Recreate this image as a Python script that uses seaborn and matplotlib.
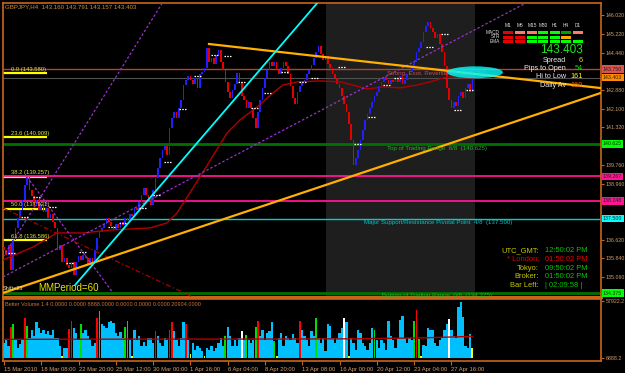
import matplotlib
matplotlib.use("Agg")
import matplotlib.pyplot as plt
import matplotlib.transforms as mtransforms
from matplotlib.patches import Rectangle, Ellipse
import numpy as np
import pandas as pd
import seaborn as sns

# ---------------- data ----------------
header_text = "GBPJPY,H4  143.160 143.791 143.157 143.403"
first_open = 136.30
closes = [
    136.19, 135.98, 136.40, 135.35, 136.61, 137.11, 137.53, 137.86, 138.28, 138.91,
    139.24, 138.70, 138.45, 138.07, 138.28, 137.86, 138.11, 137.78, 137.95, 137.53,
    137.70, 137.36, 137.11, 136.19, 136.40, 135.69, 135.85, 135.56, 135.43, 135.69,
    135.14, 135.69, 135.94, 135.77, 135.98, 135.85, 135.60, 135.85, 135.69, 136.19,
    136.69, 136.94, 137.11, 137.28, 137.53, 137.36, 137.19, 137.02, 137.28, 137.11,
    137.36, 137.23, 137.53, 137.44, 137.70, 137.61, 137.95, 137.86, 138.20, 138.49,
    138.78, 138.49, 138.28, 138.07, 138.70, 139.20, 139.62, 140.04, 140.37, 140.54,
    140.16, 141.29, 141.71, 141.96, 141.71, 142.13, 142.46, 143.09, 143.30, 143.47,
    143.30, 143.13, 143.38, 142.96, 143.55, 143.64, 143.80, 144.64, 144.05, 144.22,
    143.97, 144.35, 144.55, 144.05, 143.72, 143.22, 142.80, 142.55, 142.88, 143.13,
    143.59, 143.22, 142.63, 142.46, 142.13, 142.38, 142.13, 141.71, 141.29, 141.96,
    142.46, 142.96, 143.38, 143.72, 144.05, 143.88, 144.05, 143.72, 143.55, 143.80,
    144.05, 143.88, 143.55, 143.05, 142.55, 142.30, 142.80, 143.05, 143.22, 143.30,
    143.55, 143.72, 143.93, 144.22, 144.47, 144.72, 144.39, 144.14, 144.30, 143.97,
    143.80, 143.55, 143.38, 143.13, 142.96, 142.63, 142.30, 141.96, 141.46, 140.79,
    139.74, 140.04, 140.37, 140.79, 141.21, 141.63, 141.88, 142.13, 142.38, 142.63,
    142.80, 143.05, 143.22, 143.42, 143.30, 143.13, 143.30, 143.22, 143.38, 143.22,
    143.47, 143.13, 143.30, 143.55, 143.64, 143.88, 144.05, 144.47, 144.64, 144.89,
    145.31, 145.56, 145.73, 145.47, 145.31, 145.06, 145.22, 144.81, 144.47, 143.88,
    142.96, 142.46, 142.13, 142.38, 142.21, 142.63, 142.80, 142.55, 142.96, 143.13,
    142.80, 143.40,
]

volume_k = [
    15, 18, 12, 32, 35, 18, 10, 14, 18, 41,
    33, 20, 28, 22, 37, 30, 25, 28, 24, 27,
    23, 28, 20, 20, 12, 2, 10, 10, 29, 38,
    30, 25, 18, 35, 25, 28, 22, 18, 12, 15,
    41, 48, 35, 33, 30, 37, 38, 36, 25, 22,
    26, 20, 31, 38, 18, 2, 28, 18, 22, 12,
    16, 12, 20, 20, 15, 27, 22, 15, 12, 20,
    18, 28, 37, 27, 18, 12, 20, 37, 35, 18,
    4, 15, 8, 12, 10, 7, 2, 10, 8, 12,
    7, 10, 15, 20, 12, 22, 31, 22, 12, 18,
    12, 20, 27, 18, 23, 18, 15, 18, 32, 38,
    22, 28, 18, 25, 27, 37, 17, 2, 20, 25,
    12, 22, 20, 18, 24, 20, 15, 38, 28, 22,
    18, 12, 27, 22, 41, 20, 15, 20, 7, 35,
    33, 20, 15, 20, 25, 30, 41, 37, 2, 20,
    15, 8, 28, 25, 15, 12, 8, 15, 30, 28,
    18, 10, 18, 15, 8, 38, 22, 18, 10, 20,
    39, 43, 20, 15, 20, 18, 38, 49, 19, 2,
    13, 12, 30, 28, 28, 15, 12, 18, 20, 28,
    35, 40, 28, 22, 20, 52, 57, 42, 12, 10,
    24, 10,
]
volume_type = ("bbbrgbbbbr" "gbbbbbbbbb" "bbbbbybbrr" "bbbgbbbbbb" "rgbbbbbbbb"
               "bbggbybbbb" "bbbbbrbbbb" "brrbbbbbrb" "ybbbbbybbb" "bbbbbgbbbb"
               "bbwbgbbbgr" "bbbbbbgybb" "bbbbbbbrbb" "bbbbgbbbbb" "bbbbbbwbyb"
               "bbbbbbbbbg" "bbbbbbbbbb" "bbbbbbgrgy" "bbbbbbbbbb" "bwbbbbbbbb"
               "by")
vol_ma_bars = [0, 60, 120, 150, 180, 201]
vol_ma_vals = [19.0, 19.2, 19.3, 19.5, 20.5, 22.0]

ma_bars = [-0.4, 12.4, 22.7, 33.9, 45.5, 62.7, 70, 74.2, 84.1, 95.7, 101.3, 108.6,
           115.5, 119.7, 125.8, 135.6, 144.2, 152.8, 155.8, 162.7, 170, 177.3,
           182.8, 190.1, 201.3]
ma_prices = [135.77, 136.31, 136.90, 136.90, 137.02, 137.11, 137.32, 137.73, 139.24,
             141.08, 141.63, 142.17, 142.76, 143.09, 143.22, 143.26, 143.22, 143.01,
             142.92, 143.01, 142.97, 143.09, 143.22, 143.43, 143.38]

pivot_bars = [3.4, 14.2, 21.0, 9.0, 28.3, 33.9, 46.4, 51.1, 59.7, 65.7, 70.4, 76.8,
              83.3, 90.6, 96.1, 102.1, 107.7, 113.3, 120.6, 128.3, 133.5, 145.1,
              151.9, 157.9, 164.4, 169.1, 182.8, 189.3, 194.8, 200.0]
pivot_prices = [136.06, 138.40, 137.99, 137.57, 135.64, 136.10, 137.15, 137.32,
                137.94, 138.49, 139.87, 142.09, 143.47, 144.35, 144.30, 143.22,
                142.13, 142.76, 143.63, 143.22, 143.38, 143.84, 140.62, 141.75,
                143.09, 143.38, 144.68, 145.22, 142.04, 142.88]

level_prices = [143.750, 143.403, 140.625, 139.267, 138.248, 137.500, 134.375]
level_labels = ["143.750", "143.403", "140.625", "139.267", "138.248", "137.500", "134.375"]
level_colors = ["#B84030", "#505050", "#007000", "#FF1493", "#FF1493", "#00CED1", "#007000"]
level_widths = [1.0, 0.8, 2.0, 1.3, 1.3, 1.0, 2.0]
level_box_bg = ["#D9534F", "#FF8C00", "#00FF00", "#FF1493", "#FF1493", "#00FFFF", "#00FF00"]

fib_prices = [143.580, 140.909, 139.257, 137.921, 136.586]
fib_labels = ["0.0 (143.580)", "23.6 (140.909)", "38.2 (139.257)", "50.0 (137.921)", "61.8 (136.586)"]

# trend lines: (bar, price) anchors
trend_orange = [((87.5, 144.81), (256.2, 142.96)), ((-0.4, 134.39), (256.2, 142.76))]
trend_cyan = ((30.5, 134.72), (134.8, 146.56))
trend_purple = [((-0.4, 135.90), (68.2, 146.56)), ((9.9, 139.24), (46.8, 134.39)),
                ((-0.4, 135.06), (224.0, 146.52))]
trend_red = ((-0.4, 137.94), (81.0, 134.22))

session_start, session_end = 138.2, 202.1

price_ticks = [146.020, 145.220, 144.440, 142.880, 142.100, 141.320, 139.760,
               138.960, 136.620, 135.840, 135.060]
date_bars = [0, 16, 32, 48, 64, 80, 96, 112, 128, 144, 160, 176, 192]
date_labels = ["15 Mar 2010", "18 Mar 08:00", "22 Mar 20:00", "25 Mar 12:00",
               "30 Mar 00:00", "1 Apr 16:00", "6 Apr 04:00", "8 Apr 20:00",
               "13 Apr 08:00", "16 Apr 00:00", "20 Apr 12:00", "23 Apr 04:00",
               "27 Apr 16:00"]

timeframes = ["M1", "M5", "M15", "M30", "H1", "H4", "D1"]
indicators = ["MACD", "STR", "EMA"]
signals = [["dn", "wdn", "wdn", "up", "up", "wup", "wdn"],
           ["dn", "dn", "up", "up", "up", "flat", ""],
           ["dn", "dn", "up", "up", "up", "up", "up"]]

info_price = "143.403"
info_labels = ["Spread", "Pips to Open", "Hi to Low", "Daily Av"]
info_values = ["6", "54", "161", "160"]

clock_labels = ["UTC_GMT:", "* London:", "Tokyo:", "Broker:", "Bar Left:"]
clock_values = ["12:50:02 PM", "01:50:02 PM", "09:50:02 PM", "01:50:02 PM", "| 02:09:58 |"]

volume_header = "Better Volume 1.4 0.0000 0.0000 8888.0000 0.0000 0.0000 0.0000 20904.0000"

# ---------------- style ----------------
sns.set_theme(style="dark", rc={"axes.facecolor": "black", "figure.facecolor": "black",
                                "axes.grid": False})
plt.rcParams["font.family"] = ["Liberation Sans", "DejaVu Sans"]

W, H = 625, 373
BORDER = "#C8641E"
AXTXT = "#D0A070"

fig = plt.figure(figsize=(W / 100, H / 100), dpi=100)
fig.patch.set_facecolor("black")
px = mtransforms.Affine2D().scale(1 / W, -1 / H).translate(0, 1) + fig.transFigure

ax = fig.add_axes([3 / W, 1 - 297 / H, 598 / W, 294 / H])
axv = fig.add_axes([3 / W, 1 - 361 / H, 598 / W, 62 / H])
for a in (ax, axv):
    a.set_facecolor("black")
    for s in a.spines.values():
        s.set_color(BORDER)
        s.set_linewidth(1.2)
    a.set_xlim(-0.43, 256.2)
ax.spines["bottom"].set_linewidth(2.2)
ax.set_ylim(134.22, 146.52)
axv.set_ylim(-3, 59.9)

# session shading
ax.axvspan(session_start, session_end, color="#1E1E1E", zorder=0, lw=0)

# horizontal levels
for p, c, lw in zip(level_prices, level_colors, level_widths):
    ax.axhline(p, color=c, lw=lw, zorder=1.5)

# fib underlines + labels
for p, lab in zip(fib_prices, fib_labels):
    ax.hlines(p, -0.43, 18.5, color="#FFFF00", lw=1.6, zorder=1.2)
    ax.text(3.0, p + 0.06, lab, color="#E0E040", fontsize=4.2, va="bottom", ha="left", zorder=6)

# candles
bars = np.arange(len(closes))
opens = np.r_[first_open, closes[:-1]]
cl = np.array(closes)
df = pd.DataFrame({"bar": bars, "open": opens, "close": cl})
up = df["close"] >= df["open"]
lo = np.minimum(df["open"], df["close"])
hgt = np.maximum(np.abs(df["close"] - df["open"]), 0.05)
ax.bar(df["bar"], hgt, bottom=lo, width=0.72, color=np.where(up, "#2020FF", "#E80000"),
       linewidth=0, zorder=3)

# pivot markers (white dashed)
pb = np.array(pivot_bars)
ax.hlines(pivot_prices, pb - 1.8, pb + 1.8, color="white", lw=0.9,
          linestyles=(0, (1.2, 1.0)), zorder=5)

# moving average
sns.lineplot(x=ma_bars, y=ma_prices, ax=ax, color="#B00000", lw=1.0, zorder=4, sort=False)

# trend lines
for (a0, a1) in trend_orange:
    ax.plot([a0[0], a1[0]], [a0[1], a1[1]], color="#FFB000", lw=1.6, zorder=4.5,
            solid_capstyle="butt")
ax.plot([trend_cyan[0][0], trend_cyan[1][0]], [trend_cyan[0][1], trend_cyan[1][1]],
        color="#00FFFF", lw=1.3, zorder=4.5)
for (a0, a1) in trend_purple:
    ax.plot([a0[0], a1[0]], [a0[1], a1[1]], color="#9932CC", lw=0.9,
            ls=(0, (2, 1.6)), zorder=4.2)
ax.plot([trend_red[0][0], trend_red[1][0]], [trend_red[0][1], trend_red[1][1]],
        color="#B00000", lw=0.9, ls=(0, (4, 2, 1, 2)), zorder=4.2)

# Murrey math texts
ax.text(164.4, 143.59, "Strong, Exot. Reverse 8/8  (143.750)", color="#C05050",
        fontsize=4.4, va="center", ha="left", zorder=5)
ax.add_patch(Ellipse((202.1, 143.62), 24, 0.50, color="#00FFFF", alpha=0.8, lw=0, zorder=5.5))
ax.text(164.4, 140.45, "Top of Trading Range  6/8  (140.625)", color="#20B020",
        fontsize=4.4, va="center", ha="left", zorder=5)
ax.text(154.5, 137.35, "Major Support/Resistance Pivotal Point  4/8  (137.500)", color="#00C8C8",
        fontsize=4.4, va="center", ha="left", zorder=5)
ax.text(162.3, 134.28, "Bottom of Trading Range  0/8  (134.375)", color="#20B020",
        fontsize=4.4, va="center", ha="left", zorder=5, clip_on=True)

# y axis (right) for price
ax.set_xticks([])
ax.yaxis.tick_right()
ax.set_yticks(price_ticks)
ax.set_yticklabels([f"{t:.3f}" for t in price_ticks])
ax.tick_params(axis="y", colors=BORDER, labelcolor=AXTXT, labelsize=3.8, length=2,
               width=0.8, pad=1.5, left=False, right=True)
btr = mtransforms.blended_transform_factory(fig.transFigure, ax.transData)
for p, lab, bg in zip(level_prices, level_labels, level_box_bg):
    ax.text(603 / W, p, lab, transform=btr, fontsize=3.8, color="#202020", va="center",
            ha="left", clip_on=False, zorder=7,
            bbox=dict(boxstyle="square,pad=0.25", facecolor=bg, edgecolor="none"))

# volume panel
vcol = {"b": "#00BFFF", "r": "#FF0000", "g": "#00E000", "w": "#FFFFFF", "y": "#FFFF00"}
vb = np.arange(len(volume_k))
widths = [1.0 if t == "b" else 0.75 for t in volume_type]
axv.bar(vb, volume_k, width=widths, color=[vcol[t] for t in volume_type], linewidth=0, zorder=2)
sns.lineplot(x=vol_ma_bars, y=vol_ma_vals, ax=axv, color="#B00000", lw=1.0, zorder=3)
axv.yaxis.tick_right()
axv.set_yticks([57.9222, 0])
axv.set_yticklabels(["57922.2", "6888.2"])
axv.tick_params(axis="y", colors=BORDER, labelcolor=AXTXT, labelsize=3.8, length=2,
                width=0.8, pad=1.5, left=False, right=True)
axv.set_xticks(date_bars)
axv.set_xticklabels(date_labels)
axv.tick_params(axis="x", colors=BORDER, labelcolor=AXTXT, labelsize=4.2, length=3,
                width=0.8, pad=1.0, bottom=True)
for t in axv.get_xticklabels():
    t.set_ha("left")
axv.set_xlabel("")
axv.set_ylabel("")
ax.set_xlabel("")
ax.set_ylabel("")

# figure-level texts
fig.text(5, 7, header_text, transform=px, color="#D09030", fontsize=4.4, va="center", ha="left")
fig.text(5, 304, volume_header, transform=px, color="#D07030", fontsize=4.0, va="center", ha="left")
fig.text(3, 289, "Shift=23", transform=px, color="#F0E0A0", fontsize=4.0, va="center", ha="left")
fig.text(38, 288, "MMPeriod=60", transform=px, color="#E6E600", fontsize=7, va="center", ha="left")

# signal grid
sig_col = {"dn": "#E80000", "wdn": "#FF7A6A", "up": "#00FF00", "wup": "#00A000", "flat": "#FFA500"}
col_x = [503, 515, 527, 538, 550, 561, 573]
row_y = [31, 35.5, 40]
for j, tf in enumerate(timeframes):
    fig.text(col_x[j] + 5, 25.5, tf, transform=px, color="#E0E0E0", fontsize=3.4,
             ha="center", va="center")
for i, ind in enumerate(indicators):
    fig.text(500, row_y[i] + 1.5, ind, transform=px, color="#E0E0E0", fontsize=3.4,
             ha="right", va="center")
    for j in range(len(timeframes)):
        s = signals[i][j]
        if s:
            fig.add_artist(Rectangle((col_x[j], row_y[i]), 9.5, 3.2, transform=px,
                                     facecolor=sig_col[s], edgecolor="none"))

# info panel
fig.text(583, 50, info_price, transform=px, color="#1EE61E", fontsize=8.5, ha="right", va="center")
info_colors = ["#FFD700", "#00E000", "#FFFF00", "#FF6000"]
for k, (lab, val) in enumerate(zip(info_labels, info_values)):
    yy = [60, 68.5, 77, 85.5][k]
    fig.text(566, yy, lab, transform=px, color="#E8E8E8", fontsize=5.2, ha="right", va="center")
    fig.text(583, yy, val, transform=px, color=info_colors[k], fontsize=5.2, ha="right", va="center")

# clock panel
for k, (lab, val) in enumerate(zip(clock_labels, clock_values)):
    yy = [251, 259.5, 268, 276.5, 285.5][k]
    lc = "#E00000" if "London" in lab else "#C8C800"
    vc = "#E00000" if "London" in lab else "#00C800"
    fig.text(539, yy, lab, transform=px, color=lc, fontsize=5.4, ha="right", va="center")
    fig.text(545, yy, val, transform=px, color=vc, fontsize=5.4, ha="left", va="center")

fig.savefig("out.png", dpi=100, facecolor="black")
